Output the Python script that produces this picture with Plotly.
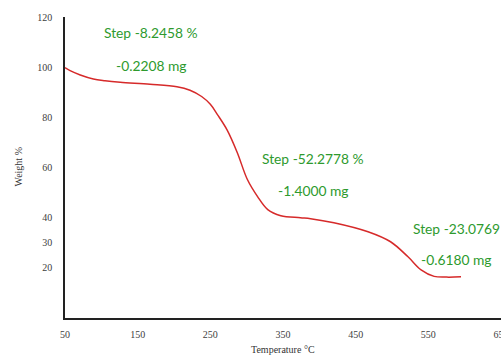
import plotly.graph_objects as go

temperature = [50, 57, 71, 89, 105, 126, 167, 204, 222, 238, 250, 260, 273, 287, 301, 315, 329, 347, 374, 388, 420, 467, 498, 522, 540, 558, 575, 595]
weight = [99.8, 98.6, 96.9, 95.3, 94.6, 94.0, 93.2, 92.2, 90.8, 88.3, 85.2, 81.0, 75.0, 66.0, 55.2, 48.4, 43.2, 40.8, 40.0, 39.6, 38.0, 34.4, 30.4, 24.4, 19.2, 16.6, 16.3, 16.4]

x_ticks = [50, 150, 250, 350, 450, 550, 650]
y_ticks = [20, 30, 40, 60, 80, 100, 120]

labels = ["Step -8.2458 %", "-0.2208 mg", "Step -52.2778 %", "-1.4000 mg", "Step -23.0769", "-0.6180 mg"]
label_x = [101, 118, 319, 340, 526, 537]
label_y = [114, 100.8, 63.6, 50.8, 35.6, 23.2]

fig = go.Figure()
fig.add_trace(go.Scatter(x=temperature, y=weight, mode="lines",
                         line=dict(color="#d62a2a", width=1.5, shape="spline", smoothing=1.0),
                         hoverinfo="skip", showlegend=False))

for t, lx, ly in zip(labels, label_x, label_y):
    fig.add_annotation(x=lx, y=ly, text=t, showarrow=False, xanchor="left", yanchor="middle",
                       font=dict(family="Lato, Open Sans, sans-serif", size=13.8, color="#2e9a2e"))

fig.add_annotation(xref="paper", yref="paper", x=0.5, y=0, yshift=-31, text="Temperature °C",
                   showarrow=False, xanchor="center", yanchor="middle",
                   font=dict(family="Liberation Serif, serif", size=10, color="#333333"))
fig.add_annotation(xref="paper", yref="paper", x=0, xshift=-47, y=0.5, text="Weight %",
                   showarrow=False, textangle=-90, xanchor="center", yanchor="middle",
                   font=dict(family="Liberation Serif, serif", size=10, color="#333333"))

axis_font = dict(family="Liberation Serif, serif", size=10, color="#404040")
fig.update_layout(
    width=501, height=355,
    margin=dict(l=65, r=0, t=17, b=37, autoexpand=False),
    paper_bgcolor="white", plot_bgcolor="white",
    xaxis=dict(range=[50, 650], tickvals=x_ticks, showgrid=False, zeroline=False,
               showline=True, linecolor="#222222", linewidth=1.5, ticks="",
               tickfont=axis_font, ticklabelstandoff=6, ticklabeloverflow="allow",
               automargin=False),
    yaxis=dict(range=[0, 120], tickvals=y_ticks, showgrid=False, zeroline=False,
               showline=True, linecolor="#222222", linewidth=1.5, ticks="",
               tickfont=axis_font, ticklabelstandoff=9, automargin=False),
)

fig.write_html("out.html", config={"displayModeBar": False},
               post_script="document.body.style.margin='0';document.body.style.overflow='hidden';")
